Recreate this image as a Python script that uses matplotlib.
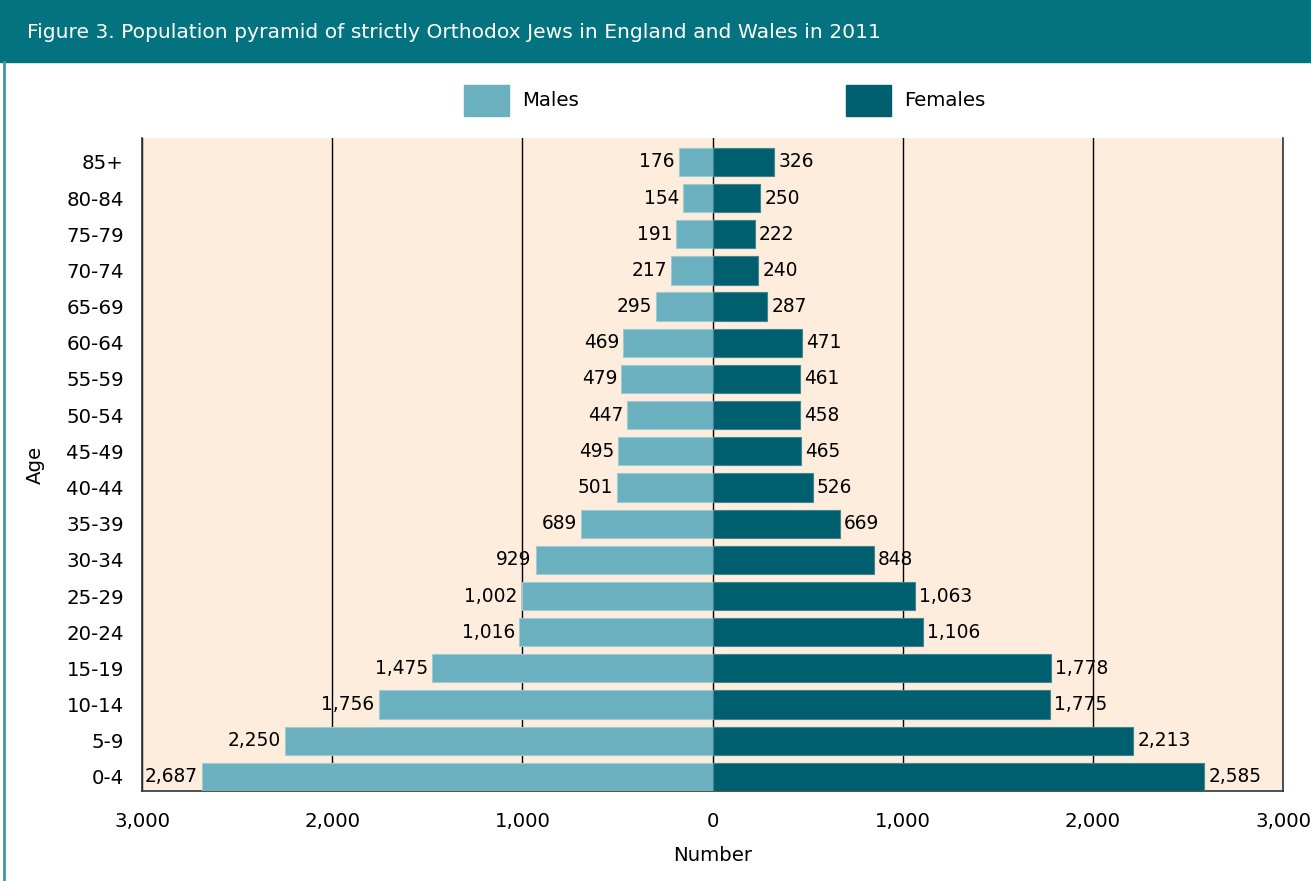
import matplotlib.pyplot as plt
from matplotlib.patches import Rectangle
from matplotlib.lines import Line2D

plt.rcParams['font.family'] = ['DejaVu Sans']

ages = ['0-4', '5-9', '10-14', '15-19', '20-24', '25-29', '30-34', '35-39', '40-44',
        '45-49', '50-54', '55-59', '60-64', '65-69', '70-74', '75-79', '80-84', '85+']
males = [2687, 2250, 1756, 1475, 1016, 1002, 929, 689, 501,
         495, 447, 479, 469, 295, 217, 191, 154, 176]
females = [2585, 2213, 1775, 1778, 1106, 1063, 848, 669, 526,
           465, 458, 461, 471, 287, 240, 222, 250, 326]
xticks = [-3000, -2000, -1000, 0, 1000, 2000, 3000]

male_col = '#6AB0BF'
female_col = '#005F6E'
header_col = '#03737F'
panel_col = '#FEECDD'
fs = 14.2

W, H = 1311, 881
fig = plt.figure(figsize=(W / 100, H / 100), dpi=100)


def fx(px):
    return px / W


def fy(py):
    return 1 - py / H


# header band and frame line
fig.patches.append(Rectangle((0, fy(62)), 1, 62 / H, transform=fig.transFigure,
                             color=header_col, zorder=0))
fig.lines.append(Line2D([fx(4), fx(4)], [0, fy(62)], transform=fig.transFigure,
                        color='#3D9AA6', lw=2))
fig.text(fx(27), fy(32), 'Figure 3. Population pyramid of strictly Orthodox Jews in England and Wales in 2011',
         color='white', fontsize=14.6, va='center', ha='left')

# legend
for x0, col, name in [(464, male_col, 'Males'), (846, female_col, 'Females')]:
    fig.patches.append(Rectangle((fx(x0), fy(116)), 45 / W, 31 / H,
                                 transform=fig.transFigure, color=col))
    fig.text(fx(x0 + 58), fy(101), name, fontsize=fs, va='center', ha='left')

ax = fig.add_axes([fx(142), fy(791), fx(1283) - fx(142), (791 - 138) / H])
ax.set_facecolor(panel_col)

y = list(range(len(ages)))
mbars = ax.barh(y, [-m for m in males], height=0.78, color=male_col,
                edgecolor='#9CCCD6', linewidth=0.8, zorder=3)
fbars = ax.barh(y, females, height=0.78, color=female_col,
                edgecolor='#3F8792', linewidth=0.8, zorder=3)
ax.bar_label(mbars, labels=[f'{m:,}' for m in males], padding=3, fontsize=13.4, zorder=4)
ax.bar_label(fbars, labels=[f'{f:,}' for f in females], padding=3, fontsize=13.4, zorder=4)

ax.set_xlim(-3000, 3000)
ax.set_ylim(-0.39, 17.66)
ax.set_xticks(xticks)
ax.set_xticklabels([f'{abs(t):,}' for t in xticks])
ax.set_yticks(y)
ax.set_yticklabels(ages)
ax.tick_params(length=0, labelsize=fs)
ax.tick_params(axis='x', pad=15)
ax.tick_params(axis='y', pad=13)
ax.grid(axis='x', color='black', lw=1, zorder=1)
ax.grid(axis='y', visible=False)

ax.spines['top'].set_visible(False)
for s in ['left', 'right', 'bottom']:
    ax.spines[s].set_color('#333333')
    ax.spines[s].set_linewidth(1.2)

ax.set_xlabel('Number', fontsize=fs, labelpad=11)
fig.text(fx(35), fy(465), 'Age', fontsize=fs, rotation=90, va='center', ha='center')

fig.savefig('out.png', dpi=100)
